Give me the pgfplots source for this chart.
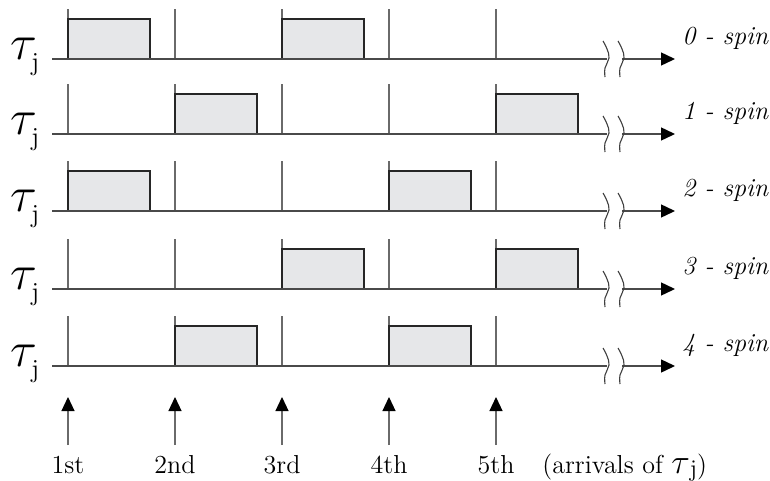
\documentclass[border=0pt]{standalone}
\usepackage{pgfplots}
\pgfplotsset{compat=1.18}
\usepackage{fontspec}
\usetikzlibrary{arrows.meta}
\definecolor{boxfill}{HTML}{E6E7E9}
\definecolor{tickgray}{HTML}{6A6A6A}
\definecolor{basegray}{HTML}{4A4A4A}
\newcommand{\taulab}{{\fontsize{25}{25}\selectfont$\tau$}}
\begin{document}
\begin{tikzpicture}
\begin{axis}[
  scale only axis,
  width=385pt, height=240pt,
  xmin=0, xmax=770, ymin=0, ymax=480,
  y dir=reverse,
  hide axis,
  clip=false,
  unbounded coords=jump,
]
% fixed frame of the picture
\path (rel axis cs:0,0) rectangle (rel axis cs:1,1);
% vertical marks (arrival instants), 50 px tall
\addplot[tickgray, line width=0.6pt] coordinates {
 (68,59) (68,9) (nan,nan) (175,59) (175,9) (nan,nan) (282,59) (282,9) (nan,nan) (389,59) (389,9) (nan,nan) (496,59) (496,9) (nan,nan)
 (68,134) (68,84) (nan,nan) (175,134) (175,84) (nan,nan) (282,134) (282,84) (nan,nan) (389,134) (389,84) (nan,nan) (496,134) (496,84) (nan,nan)
 (68,211) (68,161) (nan,nan) (175,211) (175,161) (nan,nan) (282,211) (282,161) (nan,nan) (389,211) (389,161) (nan,nan) (496,211) (496,161) (nan,nan)
 (68,289) (68,239) (nan,nan) (175,289) (175,239) (nan,nan) (282,289) (282,239) (nan,nan) (389,289) (389,239) (nan,nan) (496,289) (496,239) (nan,nan)
 (68,366) (68,316) (nan,nan) (175,366) (175,316) (nan,nan) (282,366) (282,316) (nan,nan) (389,366) (389,316) (nan,nan) (496,366) (496,316)
};
% boxes
\pgfplotsset{spinbox/.style={draw=black!85, fill=boxfill, line width=0.7pt}}
\addplot[spinbox] coordinates {(68,59) (68,19) (150,19) (150,59)} -- cycle;
\addplot[spinbox] coordinates {(282,59) (282,19) (364,19) (364,59)} -- cycle;
\addplot[spinbox] coordinates {(175,134) (175,94) (257,94) (257,134)} -- cycle;
\addplot[spinbox] coordinates {(496,134) (496,94) (578,94) (578,134)} -- cycle;
\addplot[spinbox] coordinates {(68,211) (68,171) (150,171) (150,211)} -- cycle;
\addplot[spinbox] coordinates {(389,211) (389,171) (471,171) (471,211)} -- cycle;
\addplot[spinbox] coordinates {(282,289) (282,249) (364,249) (364,289)} -- cycle;
\addplot[spinbox] coordinates {(496,289) (496,249) (578,249) (578,289)} -- cycle;
\addplot[spinbox] coordinates {(175,366) (175,326) (257,326) (257,366)} -- cycle;
\addplot[spinbox] coordinates {(389,366) (389,326) (471,326) (471,366)} -- cycle;
% time axes
\addplot[basegray, line width=0.7pt] coordinates {
 (52,59) (607,59) (nan,nan) (52,134) (607,134) (nan,nan) (52,211) (607,211) (nan,nan) (52,289) (607,289) (nan,nan) (52,366) (607,366)};
\pgfplotsset{timearrow/.style={basegray, line width=0.7pt, -{Triangle[length=7pt,width=6.5pt,black]}}}
\addplot[timearrow] coordinates {(622,59) (675,59)};
\addplot[timearrow] coordinates {(622,134) (675,134)};
\addplot[timearrow] coordinates {(622,211) (675,211)};
\addplot[timearrow] coordinates {(622,289) (675,289)};
\addplot[timearrow] coordinates {(622,366) (675,366)};
% break marks
\pgfplotsset{brk/.style={black!75, line width=0.55pt, smooth, tension=0.7}}
\foreach \b in {59,134,211,289,366} {
  \edef\tmp{\noexpand\addplot[brk] coordinates {(603,\b-18) (607,\b-10) (609,\b-1) (605,\b+9) (605,\b+18)};
    \noexpand\addplot[brk] coordinates {(618,\b-18) (622,\b-10) (624,\b-1) (620,\b+9) (620,\b+18)};}
  \tmp
}
% arrivals
\pgfplotsset{arr/.style={tickgray, line width=0.6pt, -{Triangle[length=7pt,width=6.5pt,black]}}}
\addplot[arr] coordinates {(68,445) (68,397)};
\addplot[arr] coordinates {(175,445) (175,397)};
\addplot[arr] coordinates {(282,445) (282,397)};
\addplot[arr] coordinates {(389,445) (389,397)};
\addplot[arr] coordinates {(496,445) (496,397)};
% labels
\foreach \b/\n in {59/0,134/1,211/2,289/3,366/4} {
  \edef\tmp{\noexpand\node[anchor=base west, inner sep=0pt] at (axis cs:10,\b) {\noexpand\taulab};
    \noexpand\node[anchor=base west, inner sep=0pt, font=\noexpand\fontsize{13}{13}\noexpand\selectfont] at (axis cs:31,\b+11) {j};
    \noexpand\node[anchor=base west, inner sep=0pt, font=\noexpand\fontsize{13}{13}\noexpand\selectfont\noexpand\itshape] at (axis cs:682,\b-15) {\n\ - spin};}
  \tmp
}
\foreach \x/\t in {68/1st,175/2nd,282/3rd,389/4th,496/5th} {
  \edef\tmp{\noexpand\node[anchor=base, inner sep=0pt, font=\noexpand\fontsize{13}{13}\noexpand\selectfont] at (axis cs:\x,473) {\t};}
  \tmp
}
\node[anchor=base west, inner sep=0pt, font=\fontsize{13}{13}\selectfont] at (axis cs:542,473)
  {(arrivals of {\fontsize{17}{17}\selectfont$\tau$}\raisebox{-1.5pt}{\fontsize{12}{12}\selectfont j})};
\end{axis}
\end{tikzpicture}
\end{document}
